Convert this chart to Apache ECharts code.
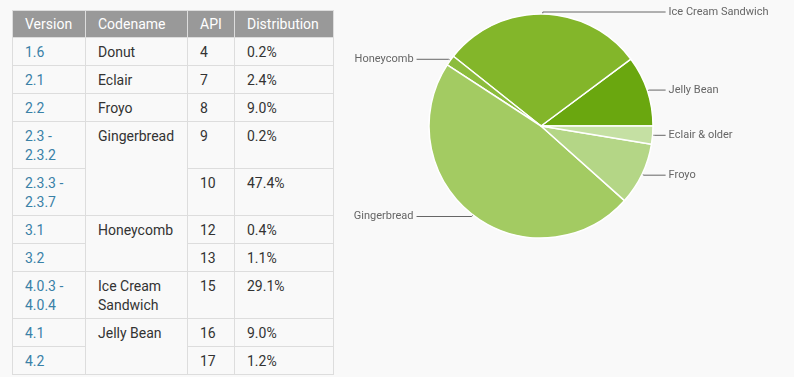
<!DOCTYPE html>
<html>
<head>
<meta charset="utf-8">
<title>Android platform versions</title>
<script src="https://cdn.jsdelivr.net/npm/echarts@6/dist/echarts.min.js"></script>
<style>
  html, body { margin: 0; padding: 0; background: #f9f9f9; }
  body { width: 794px; height: 377px; position: relative; overflow: hidden; font-family: Roboto, "Noto Sans", sans-serif; }
  #versions {
    position: absolute; left: 12px; top: 10px;
    border-collapse: collapse; table-layout: fixed;
    font-size: 14px; color: #333;
  }
  #versions th {
    background: #999; color: #fff; font-weight: normal; text-align: left;
    height: 26px; padding: 0 12px; border: 1px solid #ddd; line-height: 18px;
  }
  #versions td {
    vertical-align: top; padding: 5px 12px 3px 12px; line-height: 19px;
    border: 1px solid #ddd; background: #f9f9f9;
  }
  #versions td.ver { color: #3a81a7; }
  #pie { position: absolute; left: 340px; top: 0; width: 454px; height: 377px; }
</style>
</head>
<body>
<table id="versions"></table>
<div id="pie"></div>
<script>
// table data, one entry per row
var headers = ["Version", "Codename", "API", "Distribution"];
var colWidths = [73, 102, 47, 99];
var versions = ["1.6", "2.1", "2.2", "2.3 -<br>2.3.2", "2.3.3 -<br>2.3.7", "3.1", "3.2", "4.0.3 -<br>4.0.4", "4.1", "4.2"];
var codenames = ["Donut", "Eclair", "Froyo", "Gingerbread", "Gingerbread", "Honeycomb", "Honeycomb", "Ice Cream<br>Sandwich", "Jelly Bean", "Jelly Bean"];
var apiLevels = [4, 7, 8, 9, 10, 12, 13, 15, 16, 17];
var distribution = ["0.2%", "2.4%", "9.0%", "0.2%", "47.4%", "0.4%", "1.1%", "29.1%", "9.0%", "1.2%"];

// pie data, counter-clockwise from 3 o'clock
var pieNames = ["Jelly Bean", "Ice Cream Sandwich", "Honeycomb", "Gingerbread", "Froyo", "Eclair & older"];
var pieValues = [10.2, 29.1, 1.5, 47.6, 9.0, 2.6];
var pieColors = ["#6aa70f", "#83b62a", "#8cbc3c", "#a3cb62", "#b4d686", "#c5e0a3"];

(function () {
  "use strict";

  function buildTable() {
    var table = document.getElementById("versions");
    var html = "<colgroup>";
    colWidths.forEach(function (w) { html += '<col style="width:' + w + 'px">'; });
    html += "</colgroup><tr>";
    headers.forEach(function (h) { html += "<th>" + h + "</th>"; });
    html += "</tr>";
    for (var i = 0; i < versions.length; i++) {
      html += '<tr><td class="ver">' + versions[i] + "</td>";
      // merge runs of the same codename into one cell
      if (i === 0 || codenames[i] !== codenames[i - 1]) {
        var span = 1;
        while (i + span < codenames.length && codenames[i + span] === codenames[i]) span++;
        html += '<td rowspan="' + span + '">' + codenames[i] + "</td>";
      }
      html += "<td>" + apiLevels[i] + "</td><td>" + distribution[i] + "</td></tr>";
    }
    table.innerHTML = html;
  }

  function render() {
    var chart = echarts.init(document.getElementById("pie"), null, { renderer: "canvas" });
    var data = pieNames.map(function (n, i) {
      var item = { name: n, value: pieValues[i], itemStyle: { color: pieColors[i] } };
      // left-hand labels sit further out, so stretch the outermost one
      if (n === "Honeycomb") item.labelLine = { length2: 32 };
      return item;
    });
    chart.setOption({
      backgroundColor: "transparent",
      animation: false,
      series: [{
        type: "pie",
        center: [201, 126],
        radius: 112,
        startAngle: 0,
        clockwise: false,
        data: data,
        itemStyle: { borderColor: "#fff", borderWidth: 1.5 },
        label: {
          show: true,
          position: "outer",
          alignTo: "labelLine",
          edgeDistance: 2,
          distanceToLabelLine: 3,
          color: "#666",
          fontSize: 11,
          fontFamily: "Roboto"
        },
        labelLine: {
          show: true,
          length: 2,
          length2: 11,
          lineStyle: { color: "#666", width: 1 }
        },
        emphasis: { disabled: true }
      }]
    });
  }

  buildTable();
  render();
})();
</script>
</body>
</html>
